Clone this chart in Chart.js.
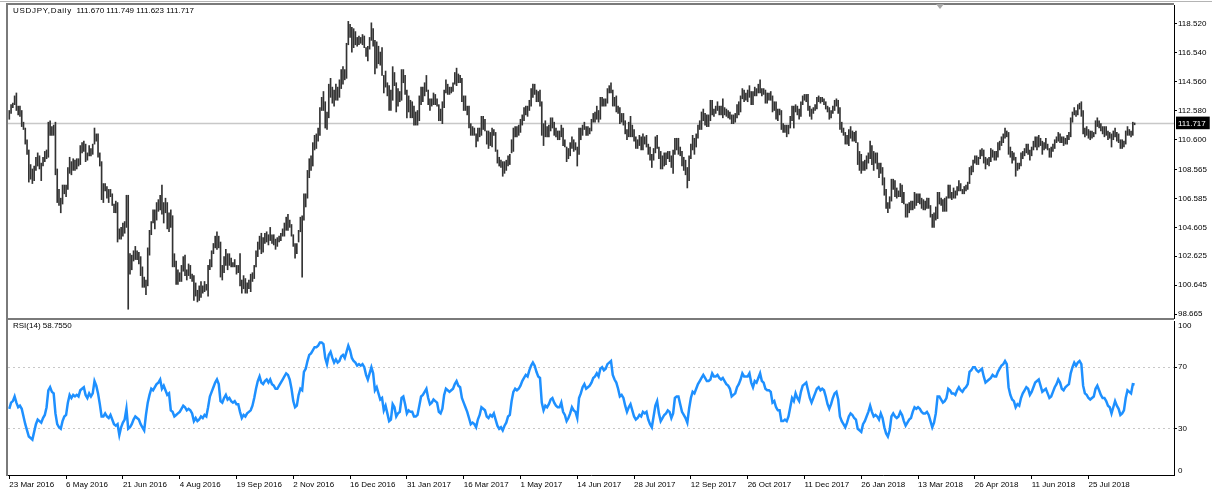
<!DOCTYPE html>
<html><head><meta charset="utf-8">
<script src="https://cdn.jsdelivr.net/npm/chart.js@4.4.1/dist/chart.umd.min.js"></script>
<style>
html,body{margin:0;padding:0;background:#fff;}
#wrap{position:relative;width:1212px;height:495px;overflow:hidden;background:#fff;font-family:"Liberation Sans",Arial,sans-serif;}
canvas{position:absolute;left:0;}
#c1{top:0;}
#c2{top:318px;}
.ln{position:absolute;background:#7a7a7a;}
.txt{position:absolute;font-size:8px;line-height:10px;color:#000;white-space:pre;}
.tri{position:absolute;left:936px;top:4px;width:0;height:0;border-left:4px solid transparent;border-right:4px solid transparent;border-top:5px solid #a8a8a8;}
</style></head>
<body><div id="wrap">
<div class="ln" style="left:0;top:1px;width:1212px;height:1px;background:#b4b4b4"></div>
<div class="ln" style="left:6px;top:3px;width:1168px;height:2px;"></div>
<div class="ln" style="left:6px;top:3px;width:2px;height:473px;"></div>
<div class="ln" style="left:6px;top:318px;width:1168px;height:2px;"></div>
<div class="tri"></div>
<canvas id="c1" width="1212" height="320"></canvas>
<canvas id="c2" width="1212" height="177"></canvas>
<div class="txt" style="left:13px;top:6px;"><span style="letter-spacing:0.7px">USDJPY,Daily</span>  111.670 111.749 111.623 111.717</div>
<div class="txt" style="left:13px;top:321px;">RSI(14) 58.7550</div>
</div>
<script>
const LABELS = ['23 Mar 2016','6 May 2016','21 Jun 2016','4 Aug 2016','19 Sep 2016','2 Nov 2016','16 Dec 2016','31 Jan 2017','16 Mar 2017','1 May 2017','14 Jun 2017','28 Jul 2017','12 Sep 2017','26 Oct 2017','11 Dec 2017','26 Jan 2018','13 Mar 2018','26 Apr 2018','11 Jun 2018','25 Jul 2018'];
const TICK_STEP = 32;
const PRICE_TICKS = [118.52,116.54,114.56,112.58,110.6,108.565,106.585,104.605,102.625,100.645,98.665];
const BID = 111.717;
const RSI_TICKS = [0,30,70,100];

const HIGH = [
112.6,113.0,113.1,113.6,113.8,112.9,112.9,112.6,111.8,111.4,110.6,109.9,108.9,108.6,108.8,109.4,109.7,109.5,109.0,109.4,109.8,109.9,111.8,111.9,111.5,111.6,111.8,108.6,107.2,106.6,107.5,107.5,
107.5,108.7,109.4,109.1,109.3,109.2,109.3,109.3,110.2,110.4,110.5,110.3,109.7,110.2,110.0,110.3,111.4,111.0,111.0,109.7,109.1,107.6,107.6,107.4,107.2,107.2,106.9,106.2,106.4,106.3,104.5,104.6,
104.9,105.0,106.8,106.8,102.8,102.7,103.0,103.3,103.0,102.9,102.6,101.9,101.2,101.0,103.2,104.4,105.0,105.8,105.8,106.3,106.5,106.8,107.5,106.3,106.6,106.3,105.6,105.8,105.4,102.8,102.3,101.7,
101.5,102.0,102.6,102.7,101.7,102.1,102.0,101.4,101.3,100.8,100.3,100.6,100.9,100.6,100.9,100.7,102.0,102.4,103.0,103.5,104.0,104.3,104.0,103.6,102.0,102.6,103.1,102.8,102.8,102.5,102.2,102.4,
102.0,102.0,102.8,101.0,101.3,101.1,100.8,101.0,101.4,101.5,102.0,103.0,103.6,104.0,104.2,103.9,104.2,104.3,104.1,104.6,104.1,104.1,103.8,103.9,104.0,104.2,104.5,104.9,105.3,105.5,105.1,104.8,
104.1,103.5,103.5,104.4,105.3,105.4,106.9,106.9,108.5,109.3,109.5,110.4,110.9,111.0,111.4,112.8,113.5,113.9,113.2,112.5,114.4,114.8,114.2,114.0,114.4,114.2,114.7,115.4,115.6,115.4,117.2,118.7,
118.5,118.3,118.2,118.0,117.6,117.7,117.6,117.8,117.7,116.9,117.0,117.6,118.6,118.2,117.4,117.3,117.0,116.6,116.9,115.0,115.3,114.5,114.3,114.0,115.6,115.2,114.5,114.1,113.9,115.4,115.4,115.0,
114.0,113.6,113.3,113.2,112.9,112.5,112.6,113.6,114.2,114.2,114.5,115.0,114.0,113.4,113.4,113.8,113.7,113.4,113.0,112.7,113.2,114.0,114.7,114.4,114.2,114.2,114.5,115.2,115.5,115.1,115.0,114.8,
113.6,113.6,112.9,112.9,111.7,111.5,111.4,111.0,111.4,111.4,112.2,112.2,112.0,111.2,111.2,111.1,111.4,111.3,111.1,109.9,109.4,109.2,109.1,109.1,109.2,109.5,109.6,110.6,111.4,111.5,111.5,111.6,
112.0,112.3,112.8,112.9,112.9,113.3,114.1,114.4,114.4,114.0,113.9,114.0,113.2,111.7,111.9,111.5,111.6,112.1,112.1,111.8,111.4,111.2,111.2,111.6,111.4,110.6,110.1,110.0,110.4,110.8,110.6,110.4,
110.1,111.4,111.4,111.6,111.8,111.5,111.5,111.4,112.0,112.4,112.5,112.9,112.6,113.5,113.5,113.4,113.4,114.1,114.3,114.5,114.0,113.5,113.6,112.9,112.8,112.4,112.4,111.9,111.3,111.8,112.2,111.6,
111.3,110.8,110.6,110.9,110.8,111.0,110.8,110.9,110.3,110.1,109.6,110.0,110.8,110.9,110.1,109.8,109.5,109.7,109.7,109.8,109.8,109.5,109.9,110.7,110.7,110.7,110.1,109.8,109.4,109.2,108.7,109.5,
110.3,110.9,110.7,111.0,111.6,111.9,112.5,112.7,112.4,112.3,112.3,113.3,113.3,112.7,112.9,113.2,112.9,112.9,113.4,112.8,112.7,112.6,112.5,112.3,112.3,112.4,113.0,113.2,113.6,114.1,114.0,113.8,
114.0,114.3,113.9,113.9,114.2,114.1,114.4,114.7,114.1,114.1,114.0,113.8,113.8,113.9,113.6,113.2,113.2,112.7,112.7,112.6,111.7,111.6,111.6,111.6,112.2,112.9,112.9,113.0,112.9,112.7,113.2,113.6,
113.7,113.7,113.7,112.9,112.7,112.8,113.0,113.5,113.6,113.5,113.5,113.4,113.2,112.9,112.8,112.6,112.9,113.3,113.4,113.3,112.8,111.8,111.4,111.1,110.9,111.3,111.5,111.2,111.1,111.2,110.4,109.8,
109.6,109.1,109.2,109.5,109.7,110.5,110.2,109.8,109.7,109.7,109.0,109.0,108.7,108.0,107.2,106.3,106.7,107.9,107.9,107.8,107.3,107.1,107.6,107.5,107.0,106.2,106.2,106.3,106.4,106.4,107.0,106.9,
106.9,106.9,106.6,106.5,106.4,106.6,106.6,106.1,105.5,105.6,106.0,107.0,107.0,106.6,106.5,106.6,106.7,107.5,107.5,107.0,107.3,107.1,107.4,107.8,107.6,107.2,107.4,107.5,107.7,108.7,108.8,109.2,
109.5,109.5,109.4,109.9,110.0,109.9,109.4,109.3,109.4,110.0,109.9,109.8,109.8,110.4,110.5,110.8,111.0,111.4,111.2,111.1,110.1,109.8,109.7,109.4,109.0,109.0,109.7,109.8,110.0,110.3,110.3,109.9,
110.1,110.5,110.8,110.8,110.9,110.7,110.5,110.4,110.7,110.3,110.0,110.1,110.3,110.6,110.8,111.1,111.0,110.8,110.8,110.7,110.9,111.1,112.1,112.5,112.8,112.6,113.0,113.1,113.2,112.6,111.4,111.5,
111.3,111.2,111.2,111.1,111.9,112.1,111.9,111.7,111.5,111.5,111.5,111.2,111.1,111.0,111.2,111.4,111.1,111.0,110.6,110.6,110.5,111.2,111.5,111.3,111.2,111.8,111.749
];
const LOW = [
112.0,112.4,112.8,113.0,112.6,112.3,112.2,111.5,111.3,110.3,109.6,107.7,107.9,107.6,107.8,108.5,108.8,108.6,107.8,108.8,109.1,109.3,109.4,110.9,110.9,110.9,108.2,106.3,106.1,105.6,106.2,106.9,
106.7,107.2,108.3,108.2,108.5,108.5,108.6,108.8,108.9,109.7,109.8,109.1,109.2,109.5,109.5,109.6,110.3,110.5,109.4,108.8,106.5,106.3,107.1,106.6,106.3,106.7,106.1,105.6,105.6,103.6,103.8,103.8,
104.0,104.2,104.6,99.0,101.4,101.7,102.3,102.4,102.4,102.1,101.3,100.5,100.5,100.0,100.6,102.7,104.1,104.9,104.5,105.1,105.7,105.8,105.5,104.9,105.6,104.5,104.3,104.6,101.9,101.9,100.7,100.7,
100.9,100.9,101.6,101.3,101.0,101.3,101.1,100.9,99.6,99.9,99.5,99.6,99.8,100.1,100.2,100.3,99.9,101.7,101.9,102.8,103.2,103.1,103.2,101.2,101.0,101.5,102.0,101.7,102.0,101.9,101.9,101.9,
101.4,101.5,100.6,100.1,100.4,100.1,100.1,100.4,100.2,100.9,101.1,101.9,102.6,103.1,102.8,102.9,103.5,103.6,103.4,103.7,103.5,103.4,103.1,103.3,103.6,103.7,104.0,104.0,104.4,104.4,104.6,104.0,
103.3,102.5,102.8,103.6,104.3,101.2,105.1,106.0,106.6,108.0,108.5,108.8,109.9,110.0,110.5,110.9,112.6,112.6,111.4,111.3,112.1,113.5,113.1,112.9,113.3,113.3,113.5,114.1,114.4,114.7,114.8,117.1,
117.6,116.6,116.9,117.1,117.0,117.1,117.2,117.1,116.9,116.3,116.0,116.8,117.4,117.0,115.1,115.5,115.8,115.7,115.0,113.8,114.2,113.6,112.6,112.6,113.3,114.3,112.5,112.9,113.2,113.3,114.5,113.7,
112.1,112.5,112.1,112.1,111.6,111.6,111.6,111.9,113.0,113.2,113.6,113.9,113.0,112.6,112.9,113.0,113.0,112.9,111.9,111.9,111.7,112.8,113.8,113.7,113.7,113.8,113.9,114.4,114.3,114.5,114.5,113.2,
112.6,112.6,112.3,111.4,110.9,110.9,110.9,110.1,110.5,110.8,110.9,111.3,111.2,110.3,110.0,110.2,110.1,110.9,109.8,109.0,108.8,108.7,108.1,108.3,108.5,108.8,108.9,109.7,109.8,110.8,110.8,110.9,
111.1,111.6,111.9,112.3,112.2,112.6,112.9,113.5,113.7,113.2,113.2,112.9,110.9,110.2,110.8,110.8,110.8,111.2,111.4,110.9,110.8,110.6,110.6,110.8,110.2,110.1,109.1,109.3,109.5,110.0,109.8,109.9,
108.8,109.6,110.6,110.9,111.3,110.9,110.9,111.0,111.2,111.8,111.8,112.0,111.8,112.0,112.9,112.9,112.9,113.1,113.8,113.8,112.9,112.9,112.5,112.4,111.7,111.8,111.6,111.0,110.6,110.8,110.8,110.8,
110.5,110.0,110.0,110.2,109.9,109.9,110.3,110.1,109.6,109.2,108.7,109.2,109.7,110.0,109.3,108.6,108.6,108.8,108.9,109.3,109.1,108.7,108.3,109.6,109.9,109.6,109.5,108.8,108.5,108.2,107.3,107.8,
109.3,109.9,109.6,110.1,110.7,111.3,111.3,111.9,111.6,111.5,111.5,111.9,112.3,112.2,112.4,112.6,112.3,112.3,112.1,112.3,112.2,112.1,112.0,111.7,111.7,111.8,112.1,112.3,112.5,113.4,113.2,113.3,
113.2,113.5,113.0,113.0,113.6,113.6,113.8,113.8,113.6,113.7,113.1,113.1,113.3,113.3,112.5,112.6,112.0,111.9,112.3,111.3,111.1,111.1,110.8,111.0,111.4,111.9,111.4,112.5,112.3,112.0,112.2,113.0,
113.3,113.2,112.6,112.2,112.0,112.4,112.6,112.7,113.2,113.1,113.2,113.0,112.7,112.5,112.0,112.1,112.4,112.6,112.9,112.4,111.3,111.1,110.9,110.3,110.3,110.2,110.7,110.5,110.5,110.4,108.9,108.5,
108.3,108.5,108.5,108.6,109.0,109.3,108.9,108.5,109.0,108.6,108.0,108.3,107.5,106.8,105.9,105.6,105.9,106.4,107.2,106.7,106.6,106.7,106.7,106.3,106.2,105.3,105.3,105.6,105.8,105.8,105.9,106.1,
106.3,106.2,105.9,105.8,105.8,105.9,105.9,105.3,104.6,104.6,105.1,105.2,106.2,106.1,105.7,105.7,105.7,106.6,106.6,106.5,106.6,106.6,106.8,107.1,107.1,106.9,106.9,107.1,107.2,107.6,108.2,108.4,
109.0,108.9,108.9,109.3,109.5,109.0,108.6,108.9,108.8,109.1,109.4,109.2,109.2,109.4,109.9,110.2,110.4,110.7,110.8,109.6,109.4,109.0,109.2,108.1,108.5,108.6,108.8,109.3,109.5,109.7,109.6,109.2,
109.5,109.9,110.1,109.9,110.1,110.2,109.6,109.9,110.0,109.9,109.4,109.4,109.8,110.0,110.4,110.5,110.4,110.4,110.2,110.3,110.3,110.6,110.8,111.8,112.3,112.2,112.3,112.7,112.2,111.0,110.8,110.9,
110.7,110.6,110.7,110.8,111.0,111.5,111.4,111.2,111.0,110.8,110.9,110.6,110.7,110.1,110.6,110.8,110.5,110.4,110.0,110.0,110.1,110.3,110.9,110.9,110.8,110.9,111.623
];
const RSI = [
43,47,48,51,47,44,45,43,38,33,29,25,24,23,28,33,36,35,34,37,39,44,55,57,54,53,40,33,31,30,35,38,
39,47,52,50,52,51,52,51,55,56,57,52,50,53,51,53,61,58,53,46,38,38,40,38,37,39,36,33,32,33,26,31,
34,36,43,30,31,33,36,38,37,36,33,31,29,39,47,52,56,55,57,59,60,62,56,58,55,52,53,42,41,38,39,40,
41,43,45,44,42,43,42,40,35,37,35,36,38,37,39,38,44,51,54,57,60,62,59,48,47,50,52,49,50,48,47,48,
46,46,41,37,39,38,40,41,42,45,50,56,61,64,60,59,61,62,60,62,59,58,56,56,58,60,62,64,66,65,62,56,
48,44,45,52,56,55,67,69,74,78,79,81,83,83,84,86,86,85,76,72,78,80,76,73,75,73,74,77,78,76,80,84,
81,76,74,73,71,72,71,72,70,65,62,66,70,66,55,57,53,49,50,42,45,40,35,36,46,44,38,40,41,50,51,46,
40,42,41,41,38,38,39,45,51,52,54,56,50,46,47,49,48,47,41,40,43,52,56,55,54,55,56,59,61,58,57,50,
47,44,41,37,33,34,33,31,36,39,44,43,42,38,37,39,38,40,36,32,30,31,29,32,34,38,39,48,54,56,55,56,
58,61,63,65,64,68,71,73,71,67,64,63,47,42,45,44,46,49,50,47,45,44,44,47,41,39,35,37,40,44,42,41,
37,50,53,57,59,56,57,58,60,63,64,66,64,69,70,68,69,72,73,74,65,62,60,56,51,52,50,45,41,44,46,42,
38,36,37,39,38,41,40,41,36,33,31,38,45,48,40,35,37,39,40,42,41,37,40,50,51,51,46,41,39,37,34,43,
50,54,53,56,59,61,63,65,63,61,61,62,66,64,64,65,63,62,63,61,59,58,56,51,52,53,57,59,62,66,64,64,
64,66,60,57,61,60,63,66,61,60,56,55,55,54,47,48,44,42,42,35,35,36,35,38,44,50,48,53,50,48,54,58,
59,60,55,50,47,50,53,56,57,55,56,55,51,46,43,46,50,53,54,49,38,35,33,31,34,38,40,39,37,36,30,29,
28,33,35,38,41,45,41,38,39,38,36,40,37,31,27,25,29,38,40,38,37,38,41,39,35,32,34,36,37,41,44,43,
44,43,41,40,40,41,39,35,31,34,40,51,51,49,47,48,50,56,55,53,53,52,55,57,55,54,56,57,59,67,68,70,
70,68,67,68,69,64,60,61,62,63,65,64,64,67,69,71,72,74,72,57,52,49,48,44,46,45,50,53,55,57,56,52,
54,57,60,61,62,58,54,55,56,53,50,51,54,57,59,62,60,56,55,57,58,59,66,70,73,71,73,74,72,58,53,52,
50,49,50,51,56,58,55,52,50,50,48,45,44,40,44,48,45,43,39,40,42,50,55,54,53,59,58.755
];

const FONT = '"Liberation Sans", Arial, sans-serif';
const X_MIN = -0.73, X_MAX = 656.2;

new Chart(document.getElementById('c1'), {
  type: 'bar',
  data: { datasets: [
    { type: 'bar', data: HIGH.map((h, i) => ({ x: i, y: [LOW[i], h] })), backgroundColor: '#333333', borderWidth: 0, barThickness: 1, order: 0 },
    { type: 'line', data: [{ x: X_MIN, y: BID }, { x: X_MAX, y: BID }], borderColor: '#c8c8c8', borderWidth: 1.5, pointRadius: 0, order: 1 }
  ]},
  options: {
    responsive: false, animation: false, events: [],
    layout: { padding: { left: 8, top: 5, right: 0, bottom: 2 } },
    plugins: { legend: { display: false }, tooltip: { enabled: false } },
    scales: {
      x: { type: 'linear', min: X_MIN, max: X_MAX, display: false, offset: false },
      y: { position: 'right', min: 98.40, max: 119.82,
        afterBuildTicks: s => { s.ticks = PRICE_TICKS.concat([BID]).map(v => ({ value: v })); },
        afterFit: s => { s.width = 38; s.paddingTop = 0; s.paddingBottom = 0; },
        ticks: { autoSkip: false, padding: 1, font: { family: FONT, size: 8 },
          color: c => (c.tick && c.tick.value === BID) ? '#fff' : '#000',
          callback: v => Number(v).toFixed(3),
          showLabelBackdrop: c => !!(c.tick && c.tick.value === BID),
          backdropColor: '#000', backdropPadding: { top: 2, bottom: 1, left: 2, right: 4 } },
        grid: { drawOnChartArea: false, drawTicks: true, tickLength: 3,
          tickColor: c => (c.tick && c.tick.value === BID) ? 'rgba(0,0,0,0)' : '#000' },
        border: { display: true, color: '#000', width: 1 }
      }
    }
  }
});

new Chart(document.getElementById('c2'), {
  type: 'line',
  data: { datasets: [
    { data: RSI.map((v, i) => ({ x: i, y: v })), borderColor: '#1e90ff', borderWidth: 2.5, pointRadius: 0, tension: 0 }
  ]},
  options: {
    responsive: false, animation: false, events: [],
    layout: { padding: { left: 8, top: 3, right: 0, bottom: 0 } },
    plugins: { legend: { display: false }, tooltip: { enabled: false } },
    scales: {
      x: { type: 'linear', min: X_MIN, max: X_MAX,
        afterBuildTicks: s => { s.ticks = LABELS.map((_, k) => ({ value: k * TICK_STEP })); },
        afterFit: s => { s.height = 20; s.paddingLeft = 0; s.paddingRight = 0; },
        ticks: { autoSkip: false, maxRotation: 0, align: 'start', padding: 1, font: { family: FONT, size: 8 }, color: '#000',
          callback: (v, i) => LABELS[i] },
        grid: { drawOnChartArea: false, drawTicks: true, tickLength: 4, tickColor: '#000' },
        border: { display: true, color: '#000' }
      },
      y: { position: 'right', min: 0, max: 100,
        afterBuildTicks: s => { s.ticks = RSI_TICKS.map(v => ({ value: Math.min(97, Math.max(3, v)) })); },
        afterFit: s => { s.width = 38; s.paddingTop = 0; s.paddingBottom = 0; },
        ticks: { autoSkip: false, padding: 1, font: { family: FONT, size: 8 }, color: '#000',
          callback: (v, i) => String(RSI_TICKS[i]) },
        grid: { drawOnChartArea: true, drawTicks: true, tickLength: 3, lineWidth: 1,
          color: c => (c.tick && (c.tick.value === 30 || c.tick.value === 70)) ? '#c8c8c8' : 'rgba(0,0,0,0)',
          tickColor: c => (c.tick && (c.tick.value === 30 || c.tick.value === 70)) ? '#000' : 'rgba(0,0,0,0)' },
        border: { display: true, color: '#000', dash: [2, 3] }
      }
    }
  }
});
</script>
</body></html>
